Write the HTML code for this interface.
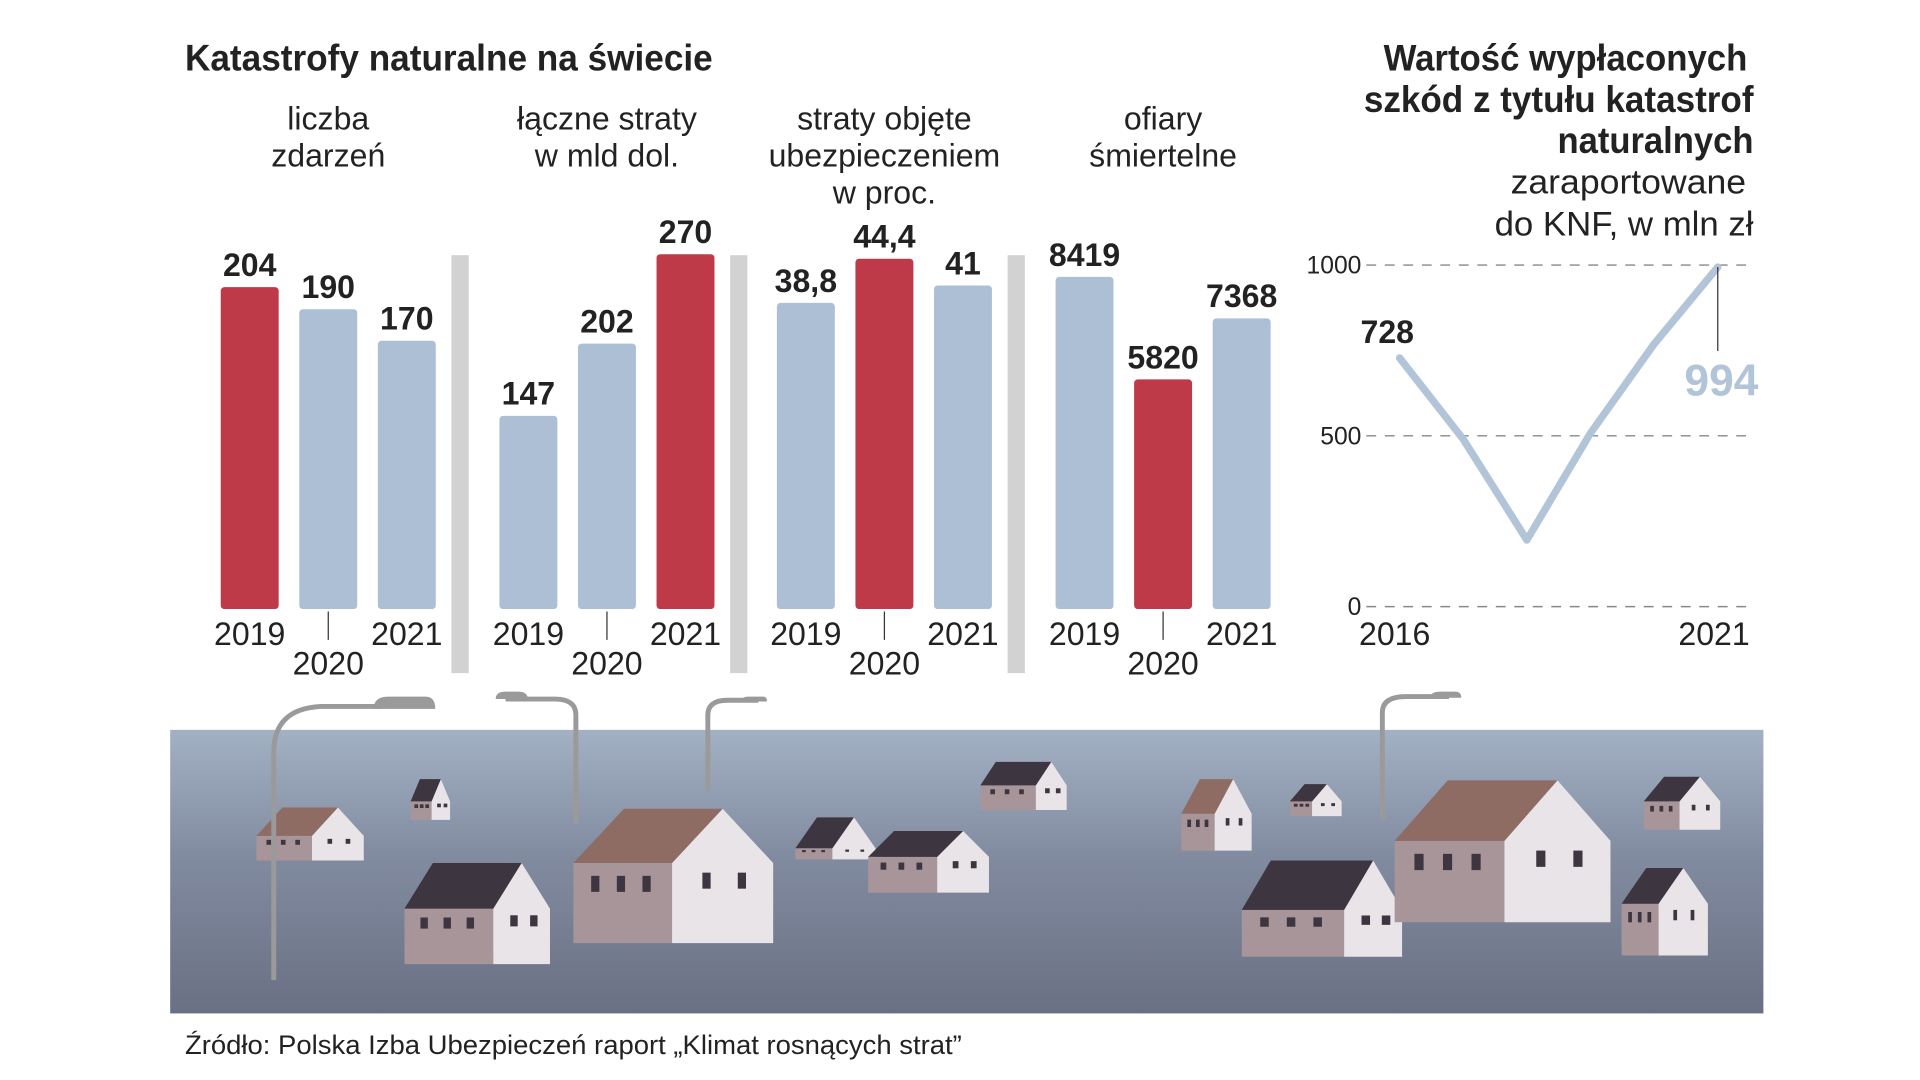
<!DOCTYPE html>
<html><head><meta charset="utf-8"><style>
html,body{margin:0;padding:0;background:#fff;width:1920px;height:1080px;overflow:hidden}
svg{display:block}
text{font-family:"Liberation Sans Narrow","Liberation Sans",sans-serif;fill:#222}
</style></head><body>
<svg id="chart" width="1920" height="1080" viewBox="0 0 1557 876" preserveAspectRatio="none">
<defs>
<linearGradient id="water" x1="0" y1="0" x2="0" y2="1">
<stop offset="0" stop-color="#a3b1c4"/><stop offset="0.45" stop-color="#818ba0"/><stop offset="1" stop-color="#6a7084"/>
</linearGradient>
</defs>
<text x="150" y="57" font-size="30" font-weight="bold" textLength="428" lengthAdjust="spacingAndGlyphs">Katastrofy naturalne na świecie</text>
<g id="bars"></g>
<g id="line">
<text x="1122" y="57" font-size="30" font-weight="bold" textLength="295" lengthAdjust="spacingAndGlyphs">Wartość wypłaconych</text>
<text x="1106" y="91" font-size="30" font-weight="bold" textLength="316" lengthAdjust="spacingAndGlyphs">szkód z tytułu katastrof</text>
<text x="1263" y="124" font-size="30" font-weight="bold" textLength="159" lengthAdjust="spacingAndGlyphs">naturalnych</text>
<text x="1225" y="157" font-size="28" textLength="191" lengthAdjust="spacingAndGlyphs">zaraportowane</text>
<text x="1212" y="191" font-size="28" textLength="210" lengthAdjust="spacingAndGlyphs">do KNF, w mln zł</text>
</g>
<g>
<rect x="138" y="592" width="1292" height="230" fill="url(#water)"/>
<g id="houses"></g>
<g fill="none" stroke="#9a9a9a" stroke-width="4">
<path d="M222 795 V610 Q222 575 260 573 H310"/>
<path d="M467 668 V580 Q467 567 450 567 H410"/>
<path d="M574 642 V580 Q574 568 590 568 H615"/>
<path d="M1121 665 V578 Q1121 565 1140 565 H1175"/>
</g>
<g fill="#9a9a9a">
<path d="M303 575 Q303 565 315 565 H345 Q353 565 353 575 Z"/>
<path d="M402 567 Q402 561 410 561 H420 Q428 561 428 567 Z"/>
<path d="M601 569 Q601 565 607 565 H619 Q622 565 622 569 Z"/>
<path d="M1160 566 Q1160 561 1168 561 H1180 Q1185 561 1185 566 Z"/>
</g>
</g>
<text x="150" y="855" font-size="22" textLength="630" lengthAdjust="spacingAndGlyphs">Źródło: Polska Izba Ubezpieczeń raport „Klimat rosnących strat”</text>
</svg>
<script>
const NS='http://www.w3.org/2000/svg';
const years=['2019','2020','2021'];
const groupTitles=[['liczba','zdarzeń'],['łączne straty','w mld dol.'],['straty objęte','ubezpieczeniem','w proc.'],['ofiary','śmiertelne']];
const eventsCount=[204,190,170];
const totalLosses=[147,202,270];
const insuredShare=[38.8,44.4,41];
const fatalities=[8419,5820,7368];
const valueLabels=[['204','190','170'],['147','202','270'],['38,8','44,4','41'],['8419','5820','7368']];
const highlightIndex=[0,2,1,1];
const lineYears=['2016','2017','2018','2019','2020','2021'];
const lineValues=[728,490,195,508,769,994];
const lineTicks=[0,500,1000];

function mk(tag,attrs,parent){const e=document.createElementNS(NS,tag);for(const k in attrs)e.setAttribute(k,attrs[k]);parent.appendChild(e);return e;}

const groups=[eventsCount,totalLosses,insuredShare,fatalities];
const scales=[1.28,1.066,6.4,0.032];
const baseY=494, barW=47, groupX=[179,405,630,856], step=63.7;
const barsG=document.getElementById('bars');
groups.forEach((vals,g)=>{
  const gx=groupX[g];
  const cx=gx+step+barW/2;
  groupTitles[g].forEach((t,i)=>{
    const tt=mk('text',{x:cx,y:105+i*30,'font-size':26,'text-anchor':'middle'},barsG);
    
    
    tt.textContent=t;
  });
  vals.forEach((v,i)=>{
    const x=gx+i*step, h=v*scales[g];
    const r=mk('rect',{x:x,y:baseY-h,width:barW,height:h,rx:3,fill:i===highlightIndex[g]?'#bf3a48':'#acbfd4'},barsG);
    
    
    const lb=mk('text',{x:x+barW/2,y:baseY-h-9,'font-size':26,'font-weight':'bold','text-anchor':'middle'},barsG);
    
    
    lb.textContent=valueLabels[g][i];
    const yl=mk('text',{x:x+barW/2,y:i===1?547:523,'font-size':26,'text-anchor':'middle'},barsG);
    
    
    yl.textContent=years[i];
    if(i===1){const tk=mk('line',{x1:x+barW/2,x2:x+barW/2,y1:496,y2:519,stroke:'#333','stroke-width':1},barsG);
      
      }
  });
  if(g<3){const s=mk('rect',{x:gx+3*step-4,y:207,width:14,height:339,fill:'#d2d2d2'},barsG);
    
    }
});

const lineG=document.getElementById('line');
const yOf=v=>492-v*0.277;
const xOf=i=>1135+i*(1393-1135)/(lineYears.length-1);
lineTicks.forEach(t=>{
  const gl=mk('line',{x1:1108,x2:1420,y1:yOf(t),y2:yOf(t),stroke:'#888','stroke-width':1.2,'stroke-dasharray':'8 7'},lineG);
  
  
  const tl=mk('text',{x:1104,y:yOf(t)+7,'font-size':20,'text-anchor':'end',fill:'#444'},lineG);
  
  
  tl.textContent=String(t);
});
const pl=mk('polyline',{points:lineValues.map((v,i)=>xOf(i)+','+yOf(v)).join(' '),fill:'none',stroke:'#b2c4d8','stroke-width':6,'stroke-linecap':'round','stroke-linejoin':'round'},lineG);


const l0=mk('text',{x:xOf(0)-10,y:yOf(lineValues[0])-12,'font-size':26,'font-weight':'bold','text-anchor':'middle'},lineG);


l0.textContent=String(lineValues[0]);
const last=lineValues.length-1;
const lk=mk('line',{x1:xOf(last),x2:xOf(last),y1:yOf(lineValues[last]),y2:yOf(lineValues[last])+68,stroke:'#333','stroke-width':1},lineG);


const l1=mk('text',{x:1426,y:yOf(lineValues[last])+104,'font-size':36,'font-weight':'bold','text-anchor':'end',style:'fill:#b2c4d8'},lineG);


l1.textContent=String(lineValues[last]);
[[0,1131],[last,1390]].forEach(([i,x])=>{
  const xl=mk('text',{x:x,y:523,'font-size':26,'text-anchor':'middle'},lineG);
  
  
  xl.textContent=lineYears[i];
});

const houseList=[
 [208,698,253,295,678,655,'#8e6c63'],[333,665,350,365,650,632,'#3d3540'],
 [328,782,400,446,737,700,'#3d3540'],[465,765,545,627,700,656,'#8e6c63'],
 [645,697,675,710,688,663,'#3d3540'],[704,724,760,802,695,674,'#3d3540'],
 [795,657,840,865,637,618,'#3d3540'],[958,690,985,1015,660,632,'#8e6c63'],
 [1046,662,1064,1088,650,636,'#3d3540'],[1007,776,1090,1137,738,698,'#3d3540'],
 [1131,748,1220,1306,682,633,'#8e6c63'],[1333,673,1362,1395,650,630,'#3d3540'],
 [1315,775,1345,1385,733,704,'#3d3540']];
const hG=document.getElementById('houses');
houseList.forEach(h=>{
  const [l,b,f0,f1,top,pk,rc]=h;
  const g=mk('g',{},hG);
  
  
  const mid=(f0+f1)/2;
  mk('rect',{x:l,y:top,width:f0-l,height:b-top,fill:'#a8959a'},g);
  mk('polygon',{points:`${f0},${b} ${f0},${top} ${mid},${pk} ${f1},${top} ${f1},${b}`,fill:'#e9e4e8'},g);
  mk('polygon',{points:`${l},${top} ${f0},${top} ${mid},${pk} ${l+(mid-f0)},${pk}`,fill:rc},g);
  const ww=Math.max(3,(f0-l)/12), wh=(b-top)/5;
  for(let k=0;k<3;k++){
    mk('rect',{x:l+(f0-l)*(0.18+k*0.26),y:top+wh*0.8,width:ww,height:wh,fill:'#3d3540'},g);
  }
  mk('rect',{x:f0+(f1-f0)*0.3,y:top+wh*0.6,width:ww,height:wh,fill:'#3d3540'},g);
  mk('rect',{x:f0+(f1-f0)*0.65,y:top+wh*0.6,width:ww,height:wh,fill:'#3d3540'},g);
});
</script>
</body></html>
